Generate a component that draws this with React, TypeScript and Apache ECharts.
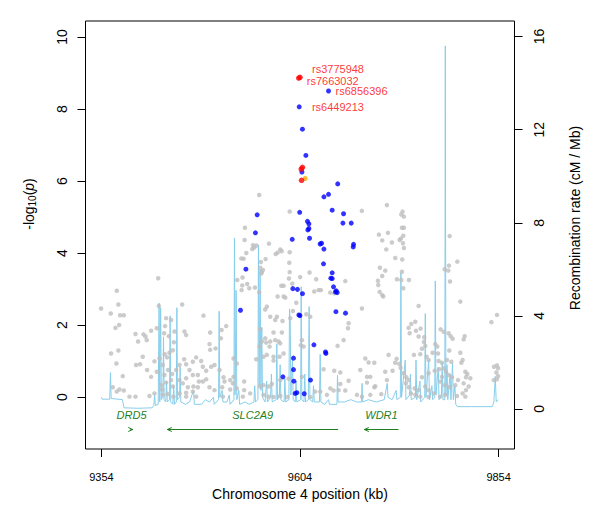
import React, { useEffect, useRef } from "react";
import * as echarts from "echarts";

const FONT = "Liberation Sans, Arial, Helvetica, sans-serif";

// Axis ticks
const xTicks = [9354, 9604, 9854];
const yTicks = [0, 2, 4, 6, 8, 10];
const recombTicks = [0, 4, 8, 12, 16];

// SNPs with low LD (gray): [position kb, -log10 p]
const grayPoints: number[][] = [
  [9552.7, 5.61], [9591.0, 5.15], [9534.7, 4.7], [9534.3, 4.36], [9544.8, 4.22], [9546.4, 4.15], [9549.0, 4.21],
  [9543.9, 4.11], [9564.9, 4.26], [9579.2, 4.1], [9580.9, 4.05], [9575.8, 4.01], [9573.3, 3.97], [9591.0, 4.02],
  [9536.4, 4.0], [9530.1, 3.85], [9533.0, 3.84], [9560.7, 3.83], [9554.8, 3.75], [9554.0, 3.59], [9557.4, 3.53],
  [9556.1, 3.47], [9555.3, 3.43], [9590.5, 3.73], [9591.0, 3.47], [9525.0, 3.25], [9531.7, 3.32], [9537.6, 3.14],
  [9531.3, 3.1], [9547.3, 3.04], [9530.5, 2.97], [9540.1, 3.02], [9590.1, 3.29], [9594.3, 3.15], [9580.5, 3.09],
  [9583.4, 3.09], [9552.7, 2.91], [9575.8, 2.79], [9583.4, 2.79], [9585.5, 2.76], [9425.5, 3.3], [9373.4, 2.95],
  [9681.9, 5.17], [9616.0, 3.46], [9604.2, 3.33], [9621.9, 2.93], [9630.3, 2.97], [9642.1, 2.9], [9647.1, 2.88],
  [9624.4, 3.27], [9661.0, 3.22], [9627.4, 2.97],
  [9713.4, 5.33], [9733.1, 5.15], [9731.5, 5.07], [9734.8, 5.01], [9732.3, 4.7], [9734.8, 4.7], [9703.3, 4.51],
  [9714.7, 4.56], [9707.5, 4.35], [9719.7, 4.29], [9729.4, 4.36], [9731.0, 4.4], [9734.0, 4.48], [9733.6, 4.27],
  [9734.8, 4.14], [9712.6, 4.1], [9723.9, 3.86], [9732.7, 3.82], [9792.4, 4.47], [9704.6, 3.59], [9711.3, 3.51],
  [9707.5, 3.36], [9732.3, 3.48], [9702.1, 3.23], [9702.5, 3.11], [9726.0, 3.27], [9731.5, 3.25], [9741.1, 3.25],
  [9734.0, 3.02], [9704.2, 2.92], [9707.5, 2.83], [9708.8, 2.79], [9786.1, 3.55], [9790.7, 3.51], [9791.5, 3.65],
  [9802.0, 3.76], [9792.8, 3.21],
  [9353.6, 2.46], [9375.4, 2.57], [9365.8, 2.32], [9377.5, 2.27], [9382.2, 2.27], [9376.3, 2.0], [9371.7, 1.92],
  [9426.3, 2.53], [9455.7, 2.57], [9435.5, 2.19], [9441.8, 2.14], [9434.2, 1.97], [9423.7, 1.91], [9416.6, 1.84],
  [9396.9, 1.75], [9407.0, 1.74], [9409.5, 1.68], [9400.2, 1.54], [9411.1, 1.58], [9433.0, 1.77], [9458.6, 1.82],
  [9460.7, 1.72], [9445.2, 1.52], [9482.5, 2.26], [9490.9, 1.79], [9505.2, 1.86], [9511.1, 1.97], [9504.4, 1.63],
  [9490.1, 1.47], [9497.7, 1.35], [9490.9, 1.31], [9366.2, 1.21], [9375.4, 1.29], [9372.9, 0.93], [9397.7, 0.89],
  [9402.7, 0.91], [9406.1, 1.12], [9420.8, 0.99], [9433.8, 1.19], [9439.7, 1.23], [9436.8, 1.1], [9443.9, 1.3],
  [9427.1, 1.07], [9431.3, 0.89], [9423.7, 0.7], [9411.6, 0.75], [9416.6, 0.56], [9380.9, 0.58], [9433.4, 0.61],
  [9438.0, 0.75], [9443.1, 0.64], [9448.1, 0.75], [9452.3, 0.89], [9458.2, 1.05], [9460.7, 0.91], [9469.1, 0.98],
  [9473.3, 1.1], [9479.6, 1.0], [9481.7, 0.84], [9464.9, 0.75], [9469.1, 0.61], [9475.4, 0.61], [9485.9, 0.73],
  [9492.2, 0.84], [9496.4, 0.89], [9502.7, 0.75], [9507.7, 0.55], [9485.9, 0.49], [9481.7, 0.43], [9476.7, 0.43],
  [9460.7, 0.52], [9452.3, 0.47], [9441.8, 0.47], [9435.5, 0.4], [9443.9, 0.29], [9456.5, 0.38], [9462.8, 0.27],
  [9469.9, 0.29], [9475.4, 0.27], [9429.2, 0.33], [9430.5, 0.21], [9420.8, 0.1], [9414.5, 0.03], [9431.3, 0.06],
  [9437.6, 0.08], [9444.7, 0.01], [9452.3, 0.1], [9460.7, 0.12], [9469.1, 0.15], [9473.3, 0.01], [9460.7, 0.01],
  [9368.3, 0.27], [9376.7, 0.21], [9373.3, 0.15], [9382.2, 0.18], [9389.3, 0.01], [9396.9, 0.01], [9506.1, 0.27],
  [9506.9, 0.01], [9496.4, 0.19], [9490.1, 0.27], [9509.0, 0.43], [9516.1, 0.21], [9438.9, 1.69], [9446.0, 1.82],
  [9562.3, 2.51], [9599.3, 2.62], [9560.2, 2.43], [9566.5, 2.23], [9574.9, 2.23], [9572.8, 2.14], [9582.0, 2.11],
  [9591.7, 2.19], [9595.1, 2.39], [9611.9, 2.3], [9616.9, 2.23], [9581.2, 1.79], [9570.7, 1.79], [9553.9, 1.89],
  [9560.2, 1.63], [9556.0, 1.54], [9561.5, 1.51], [9566.5, 1.54], [9572.8, 1.58], [9577.0, 1.54], [9579.1, 1.49],
  [9565.7, 1.4], [9553.1, 1.4], [9583.3, 1.21], [9578.3, 1.12], [9570.7, 1.12], [9562.3, 1.17], [9558.1, 1.12],
  [9548.9, 1.05], [9570.7, 1.01], [9520.3, 1.07], [9524.5, 0.93], [9606.4, 1.58], [9605.1, 1.44], [9608.5, 1.4],
  [9520.3, 0.56], [9516.1, 0.47], [9519.5, 0.38], [9524.5, 0.24], [9533.7, 0.43], [9533.7, 0.19], [9553.9, 0.29],
  [9558.1, 0.33], [9564.4, 0.29], [9568.6, 0.36], [9579.1, 0.47], [9589.6, 0.51], [9606.4, 0.56], [9633.7, 0.77],
  [9647.1, 0.73], [9654.7, 0.68], [9651.3, 1.42], [9658.9, 1.58], [9665.2, 2.05], [9664.4, 1.91], [9682.0, 2.46],
  [9686.2, 1.07], [9690.4, 0.96], [9697.5, 0.95], [9679.9, 0.75], [9688.3, 0.56], [9692.5, 0.56], [9688.3, 0.4],
  [9697.5, 0.27], [9665.2, 0.45], [9654.7, 0.36], [9642.1, 0.24], [9646.3, 0.18], [9652.6, 0.19], [9661.0, 0.18],
  [9637.9, 0.06], [9629.5, 0.15], [9623.2, 0.15], [9675.7, 0.06], [9682.0, 0.01], [9692.5, 0.06], [9532.1, 0.01],
  [9541.3, 0.1], [9558.1, 0.06], [9564.4, 0.01], [9570.7, 0.0], [9579.1, 0.03], [9588.3, 0.0], [9616.9, 0.0],
  [9753.3, 2.53], [9805.8, 2.65], [9749.1, 2.09], [9744.1, 2.03], [9740.7, 1.92], [9742.0, 1.77], [9750.0, 1.84],
  [9755.8, 1.9], [9753.3, 1.68], [9760.4, 1.66], [9760.0, 1.53], [9781.0, 1.88], [9784.8, 1.81], [9791.1, 1.77],
  [9793.6, 1.69], [9796.1, 1.62], [9811.3, 1.69], [9810.0, 1.6], [9757.5, 1.34], [9761.7, 1.42], [9774.3, 1.47],
  [9776.8, 1.4], [9770.9, 1.23], [9777.7, 1.21], [9791.9, 1.29], [9805.8, 1.23], [9715.5, 1.17], [9725.6, 1.06],
  [9723.9, 0.95], [9747.4, 1.17], [9755.4, 1.19], [9763.4, 1.12], [9765.9, 1.03], [9778.5, 1.0], [9782.7, 0.95],
  [9789.0, 1.03], [9794.5, 0.98], [9807.1, 0.95], [9808.7, 1.03], [9844.9, 2.08], [9852.0, 2.28], [9852.0, 0.88],
  [9848.2, 0.84], [9853.3, 0.8], [9851.2, 0.68], [9853.3, 0.58], [9847.8, 0.47], [9852.0, 0.49], [9711.3, 0.7],
  [9720.5, 0.73], [9728.9, 0.92], [9730.6, 0.81], [9734.4, 0.66], [9737.8, 0.55], [9740.7, 0.47], [9737.3, 0.38],
  [9740.7, 0.27], [9748.3, 0.24], [9753.3, 0.19], [9743.6, 0.1], [9749.1, 0.06], [9755.4, 0.01], [9761.7, 0.29],
  [9765.9, 0.19], [9772.2, 0.1], [9757.5, 0.55], [9765.9, 0.66], [9773.5, 0.73], [9779.3, 0.77], [9784.8, 0.8],
  [9787.7, 0.7], [9791.1, 0.61], [9795.3, 0.55], [9782.7, 0.56], [9780.6, 0.43], [9786.1, 0.33], [9791.9, 0.27],
  [9799.5, 0.33], [9802.9, 0.47], [9812.1, 0.7], [9814.6, 0.64], [9812.9, 0.55], [9818.4, 0.52], [9810.0, 0.38],
  [9816.3, 0.29], [9812.9, 0.19], [9808.7, 0.1], [9801.6, 0.03], [9812.1, 0.01], [9786.9, 0.06], [9780.6, 0.01],
  [9765.9, 0.0], [9706.3, 0.08], [9713.4, 0.47], [9698.7, 0.3],
];

// SNPs in high LD (blue)
const bluePoints: number[][] = [
  [9639.9, 8.5], [9603.0, 8.06], [9607.1, 7.44], [9611.4, 6.71], [9606.4, 6.25], [9651.5, 5.92], [9639.9, 5.63],
  [9634.1, 5.56], [9550.1, 5.06], [9547.9, 4.56], [9535.9, 3.55], [9529.1, 2.41], [9603.6, 5.13], [9644.5, 5.19],
  [9658.8, 5.09], [9658.0, 4.83], [9668.5, 4.83], [9613.4, 4.88], [9615.2, 4.81], [9615.2, 4.68], [9613.9, 4.64],
  [9616.0, 4.41], [9594.2, 4.38], [9629.4, 4.25], [9631.1, 4.27], [9634.1, 4.11], [9671.4, 4.24], [9671.0, 4.17],
  [9633.6, 3.7], [9644.5, 3.45], [9642.9, 3.3], [9644.5, 3.29], [9646.2, 3.06], [9648.7, 2.92], [9650.8, 2.9],
  [9649.6, 2.95], [9595.0, 3.01], [9600.8, 2.99], [9607.1, 2.87], [9649.2, 2.37], [9661.3, 2.33], [9602.6, 2.28],
  [9603.9, 2.26], [9621.5, 1.45], [9636.1, 1.25], [9636.6, 1.21], [9595.8, 1.08], [9595.8, 0.76], [9582.5, 0.56],
  [9596.3, 0.44], [9617.2, 0.47], [9597.9, 0.1], [9600.1, 0.12], [9609.3, 0.09],
];

// Top SNPs (red) and proxy (orange)
const redPoints: number[][] = [[9602.4, 8.86], [9604.0, 8.88], [9607.1, 6.38], [9605.5, 6.33], [9605.9, 6.02]];
const orangePoints: number[][] = [[9610.5, 6.07]];

// Labelled SNPs
const snpNames = ["rs3775948", "rs7663032", "rs6856396", "rs6449213"];
const snpPositions: number[][] = [[9604.0, 8.88], [9602.4, 8.86], [9639.9, 8.5], [9603.0, 8.06]];

// Recombination rate (cM/Mb): [position kb, rate]
const recombRate: number[][] = [
  [9354, 0.5], [9355, 0.42], [9364.5, 0.42], [9365.4, 1.56], [9366.3, 0.45], [9380.5, 0.4], [9382.5, 0.05],
  [9400, 0.03], [9418, 0.05], [9420, 0.15], [9421, 0.6], [9422, 0.15], [9425.5, 0.2], [9426.6, 4.55], [9427.5, 0.3],
  [9428.6, 4.35], [9429.5, 0.4], [9431.5, 0.5], [9432.2, 3.1], [9433, 0.4], [9435, 0.3], [9436, 1.2], [9437, 0.3],
  [9439.8, 0.4], [9440.5, 4.0], [9441.3, 0.3], [9444, 0.2], [9445, 1.0], [9446, 0.2], [9448.3, 0.3], [9449, 4.35],
  [9449.8, 0.4], [9452.5, 0.5], [9453.1, 1.8], [9454, 0.3], [9460, 0.2], [9465, 0.3], [9470, 0.8], [9471, 0.2],
  [9480, 0.2], [9485, 0.4], [9490, 0.3], [9495, 0.5], [9496, 0.2], [9501.5, 0.4], [9502.2, 4.2], [9503, 0.5],
  [9506, 0.8], [9507, 0.3], [9512, 0.3], [9515, 0.6], [9516, 0.2], [9520.8, 0.4], [9521.5, 7.35], [9522.3, 0.6],
  [9523.6, 5.1], [9524.5, 0.4], [9527, 0.8], [9528, 0.2], [9535, 0.3], [9540, 0.2], [9546, 0.3], [9547, 1.0],
  [9548, 0.3], [9551, 0.4], [9551.7, 7.05], [9552.6, 1.0], [9553.8, 6.0], [9554.8, 0.8], [9555.9, 3.5],
  [9556.8, 0.5], [9560, 0.3], [9562, 1.2], [9563, 0.3], [9567, 0.5], [9568, 1.5], [9569, 0.3], [9574, 0.4],
  [9574.8, 2.8], [9575.7, 0.4], [9578, 0.6], [9579, 1.9], [9580, 0.4], [9584, 0.3], [9585, 1.3], [9586, 0.3],
  [9590, 0.4], [9590.8, 4.3], [9591.7, 3.8], [9592.5, 0.6], [9594.5, 2.1], [9595.5, 0.4], [9598, 0.3], [9599, 1.2],
  [9600, 0.3], [9604.8, 0.4], [9605.5, 5.25], [9606.3, 0.4], [9609, 0.3], [9610, 1.5], [9611, 0.3], [9614.5, 0.4],
  [9615.5, 4.4], [9616.5, 0.4], [9620, 0.3], [9621, 1.0], [9622, 0.3], [9628.5, 0.3], [9629.4, 2.35], [9630.3, 0.3],
  [9635, 0.2], [9640, 0.4], [9641, 0.2], [9650.5, 0.2], [9651.2, 1.45], [9652, 0.3], [9660, 0.3], [9668, 0.4],
  [9675, 0.3], [9681.5, 0.3], [9682.1, 1.1], [9683, 0.3], [9690, 0.4], [9700, 0.3], [9710, 0.4], [9713.8, 1.1],
  [9714.8, 0.5], [9720, 0.4], [9725, 0.8], [9726, 0.4], [9730.3, 0.5], [9731, 5.85], [9731.8, 0.5], [9736.5, 2.1],
  [9737.3, 0.4], [9742, 0.6], [9743, 1.5], [9744, 0.4], [9749.3, 0.5], [9750, 2.1], [9751, 0.4], [9755, 1.2],
  [9756, 0.3], [9761, 0.5], [9761.7, 4.1], [9762.5, 0.5], [9766, 2.1], [9767, 0.4], [9770, 1.0], [9771, 0.4],
  [9773.6, 0.5], [9774.3, 5.5], [9775.1, 0.6], [9778, 1.8], [9779, 0.4], [9782, 0.6], [9783, 2.0], [9784, 0.4],
  [9786.3, 0.4], [9786.9, 15.6], [9787.6, 0.6], [9789, 1.9], [9790, 0.4], [9793, 1.5], [9794, 0.4], [9796, 1.96],
  [9797, 0.4], [9799, 1.0], [9800, 0.2], [9802, 0.1], [9820, 0.1], [9846, 0.1], [9848, 0.3], [9849.8, 1.4],
  [9851, 0.3], [9853.5, 0.4],
];

// Genes
const geneNames = ["DRD5", "SLC2A9", "WDR1"];
const geneStart = [9390.5, 9437, 9685];
const geneEnd = [9393.5, 9652, 9728];
const geneStrand = [1, -1, -1];

const GREEN = "#1f7f1f";
const GENE_Y = -0.9;
const GENE_LABEL_Y = -0.5;
const labelOffsets = [[12, -8], [8, 2.7], [7, 0], [12.7, 0]];

export default function App() {
  const ref = useRef<HTMLDivElement>(null);
  useEffect(() => {
    if (!ref.current) return;
    const chart = echarts.init(ref.current, undefined, { renderer: "svg" });
    const genesData = geneNames.map((_, i) => [geneStart[i], geneEnd[i], geneStrand[i]]);
    const option: any = {
      animation: false,
      backgroundColor: "#fff",
      textStyle: { fontFamily: FONT },
      grid: { left: 85.5, right: 85.5, top: 21, bottom: 64, show: true, borderColor: "#000", borderWidth: 1 },
      graphic: [
        {
          type: "text", x: 29, y: 204, rotation: Math.PI / 2,
          style: {
            text: "{a|-log}{s|10}{a|(}{i|p}{a|)}", align: "center", verticalAlign: "middle",
            fontSize: 14, fill: "#000", fontFamily: FONT,
            rich: {
              a: { fontSize: 14, fill: "#000", fontFamily: FONT },
              s: { fontSize: 10, fill: "#000", fontFamily: FONT, padding: [7, 0, 0, 0] },
              i: { fontSize: 14, fill: "#000", fontFamily: FONT, fontStyle: "italic" },
            },
          },
        },
        {
          type: "text", x: 575, y: 218, rotation: Math.PI / 2,
          style: {
            text: "Recombination rate (cM / Mb)", align: "center", verticalAlign: "middle",
            fontSize: 14, fill: "#000", fontFamily: FONT,
          },
        },
      ],
      xAxis: {
        type: "value", min: 9334, max: 9874,
        axisLine: { show: false, onZero: false },
        splitLine: { show: false },
        axisTick: { show: true, customValues: xTicks, length: 8, lineStyle: { color: "#000" } },
        axisLabel: { customValues: xTicks, fontSize: 11, color: "#000", margin: 22, fontFamily: FONT, formatter: (v: number) => String(v) },
        name: "Chromosome 4 position (kb)", nameLocation: "middle", nameGap: 37,
        nameTextStyle: { fontSize: 14, color: "#000", fontFamily: FONT },
      },
      yAxis: [
        {
          type: "value", min: -1.444, max: 10.444, position: "left",
          axisLine: { show: false, onZero: false }, splitLine: { show: false },
          axisTick: { show: true, customValues: yTicks, length: 8, lineStyle: { color: "#000" } },
          axisLabel: { customValues: yTicks, rotate: 90, fontSize: 14, color: "#000", margin: 17, fontFamily: FONT },
        },
        {
          type: "value", min: -1.72, max: 16.67, position: "right",
          axisLine: { show: false, onZero: false }, splitLine: { show: false },
          axisTick: { show: true, customValues: recombTicks, length: 8, lineStyle: { color: "#000" } },
          axisLabel: { customValues: recombTicks, rotate: 90, fontSize: 14, color: "#000", margin: 17, fontFamily: FONT },
        },
      ],
      series: [
        {
          type: "line", yAxisIndex: 1, data: recombRate, showSymbol: false, symbol: "none",
          lineStyle: { color: "#87CEEB", width: 1 }, z: 1, silent: true,
        },
        {
          type: "scatter", data: grayPoints, symbolSize: 4.5,
          itemStyle: { color: "#BEBEBE" }, z: 2, silent: true,
        },
        {
          type: "scatter", data: bluePoints, symbolSize: 5,
          itemStyle: { color: "#0000FF" }, z: 3, silent: true,
        },
        {
          type: "scatter", data: orangePoints, symbolSize: 5,
          itemStyle: { color: "#FFA500" }, z: 4, silent: true,
        },
        {
          type: "scatter", data: redPoints, symbolSize: 5.5,
          itemStyle: { color: "#FF0000" }, z: 5, silent: true,
        },
        {
          type: "scatter", z: 6, silent: true, symbolSize: 0,
          data: snpPositions.map((p, i) => ({
            value: p,
            label: {
              show: true, position: "inside", formatter: snpNames[i], align: "left", verticalAlign: "middle",
              offset: labelOffsets[i], color: "#FF0000", fontSize: 11, fontFamily: FONT,
            },
          })),
        },
        {
          type: "custom", silent: true, z: 7, data: genesData, encode: { x: [0, 1], y: 2 },
          renderItem: (params: any, api: any) => {
            const i = params.dataIndex;
            const s = api.coord([api.value(0), GENE_Y]);
            const e = api.coord([api.value(1), GENE_Y]);
            const strand = api.value(2);
            const lab = api.coord([(api.value(0) + api.value(1)) / 2, GENE_LABEL_Y]);
            const hx = strand > 0 ? e[0] : s[0];
            const dir = strand > 0 ? -1 : 1;
            const y = Math.round(s[1]) + 0.5;
            return {
              type: "group",
              children: [
                { type: "line", shape: { x1: s[0], y1: y, x2: e[0], y2: y }, style: { stroke: GREEN, lineWidth: 1 } },
                {
                  type: "polyline",
                  shape: { points: [[hx + dir * 4.5, y - 2], [hx, y], [hx + dir * 4.5, y + 2]] },
                  style: { stroke: GREEN, fill: null, lineWidth: 1 },
                },
                {
                  type: "text", x: lab[0], y: lab[1],
                  style: {
                    text: geneNames[i], fill: GREEN, fontSize: 11, fontStyle: "italic", fontFamily: FONT,
                    align: "center", verticalAlign: "middle",
                  },
                },
              ],
            };
          },
        },
      ],
    };
    chart.setOption(option);
    return () => chart.dispose();
  }, []);
  return <div ref={ref} style={{ position: "absolute", left: 0, top: 0, width: 600, height: 513 }} />;
}
